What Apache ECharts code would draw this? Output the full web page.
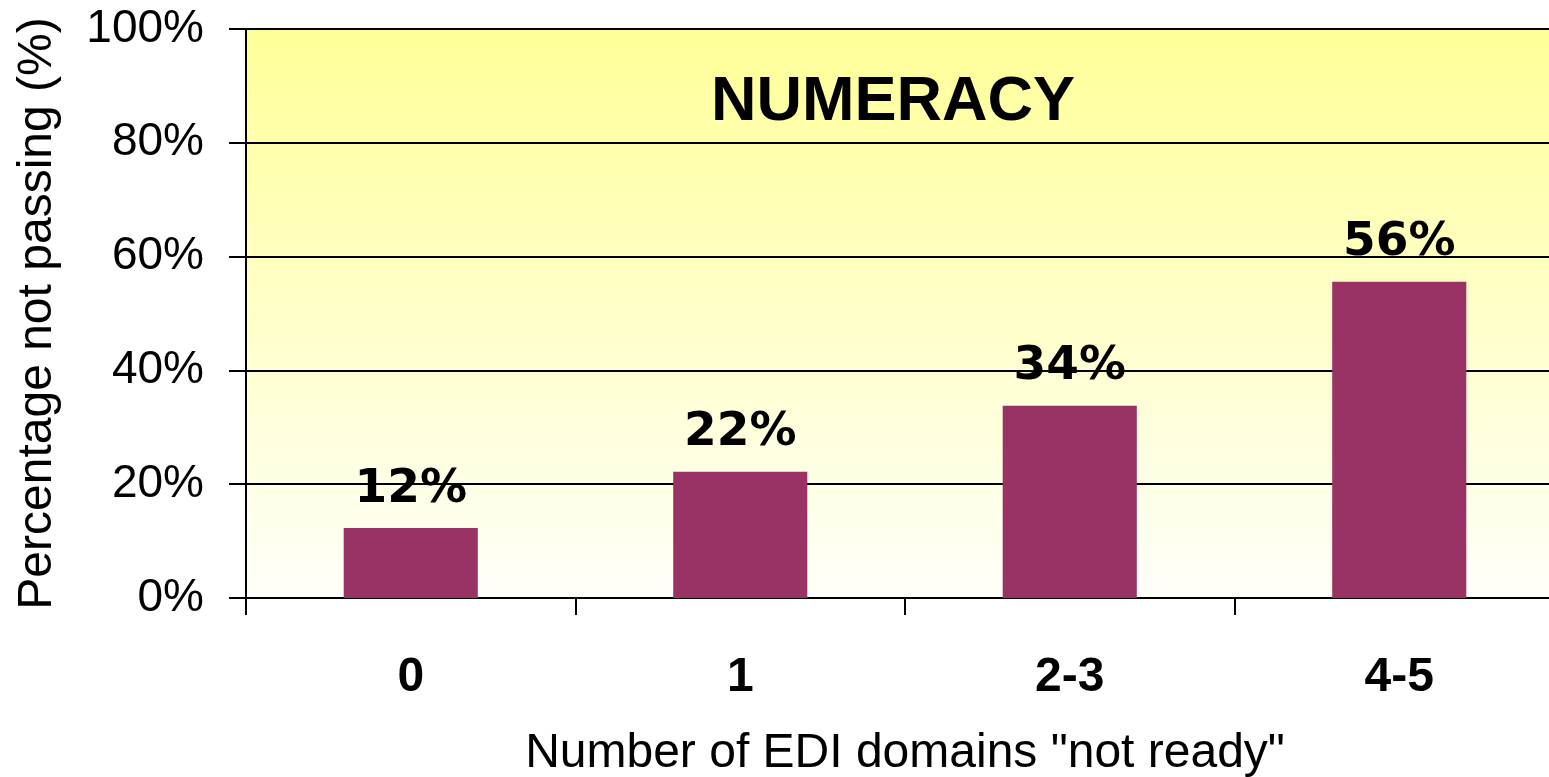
<!DOCTYPE html>
<html>
<head>
<meta charset="utf-8">
<script src="https://cdn.jsdelivr.net/npm/echarts@6/dist/echarts.min.js"></script>
<style>
  html, body { margin: 0; padding: 0; background: #fff; }
  #chart { width: 1549px; height: 777px; }
</style>
</head>
<body>
<div id="chart"></div>
<script>
const categories = ['0', '1', '2-3', '4-5']
const notPassing = [12.3, 22.2, 33.8, 55.6]
const valueLabels = ['12%', '22%', '34%', '56%']

const chart = echarts.init(document.getElementById('chart'))

chart.setOption({
  animation: false,
  title: {
    text: 'NUMERACY',
    left: 706,
    top: 66,
    textStyle: {
      fontFamily: 'Liberation Sans',
      fontWeight: 'bold',
      fontSize: 63,
      color: '#000'
    }
  },
  grid: {
    left: 246,
    top: 29,
    right: -15,
    bottom: 179,
    outerBoundsMode: 'none',
    containLabel: false,
    show: true,
    borderWidth: 0,
    backgroundColor: {
      type: 'linear', x: 0, y: 0, x2: 0, y2: 1,
      colorStops: [
        { offset: 0, color: '#ffff99' },
        { offset: 1, color: '#fffffa' }
      ]
    }
  },
  xAxis: {
    type: 'category',
    data: categories,
    name: 'Number of EDI domains "not ready"',
    nameLocation: 'middle',
    nameGap: 132,
    nameTextStyle: { fontFamily: 'Liberation Sans', fontSize: 48, color: '#000' },
    axisLine: { lineStyle: { color: '#000', width: 2 } },
    axisTick: { show: true, inside: false, length: 17, lineStyle: { color: '#000', width: 2 } },
    axisLabel: {
      margin: 56,
      fontFamily: 'Liberation Sans',
      fontWeight: 'bold',
      fontSize: 48,
      color: '#000'
    }
  },
  yAxis: {
    type: 'value',
    min: 0,
    max: 100,
    interval: 20,
    name: 'Percentage not passing (%)',
    nameLocation: 'middle',
    nameGap: 184,
    nameRotate: 90,
    nameTextStyle: { fontFamily: 'Liberation Sans', fontSize: 48, color: '#000' },
    axisLine: { show: true, lineStyle: { color: '#000', width: 2 } },
    axisTick: { show: true, length: 17, lineStyle: { color: '#000', width: 2 } },
    splitLine: { lineStyle: { color: '#000', width: 2 } },
    axisLabel: {
      margin: 42,
      formatter: '{value}%',
      fontFamily: 'Liberation Sans',
      fontSize: 46,
      color: '#000'
    }
  },
  series: [{
    type: 'bar',
    data: notPassing,
    barWidth: '40.7%',
    itemStyle: { color: '#993366' },
    label: {
      show: true,
      position: 'top',
      distance: 15,
      formatter: p => valueLabels[p.dataIndex],
      fontFamily: 'DejaVu Sans',
      fontWeight: 'bold',
      fontSize: 47,
      color: '#000'
    }
  }]
})
</script>
</body>
</html>
